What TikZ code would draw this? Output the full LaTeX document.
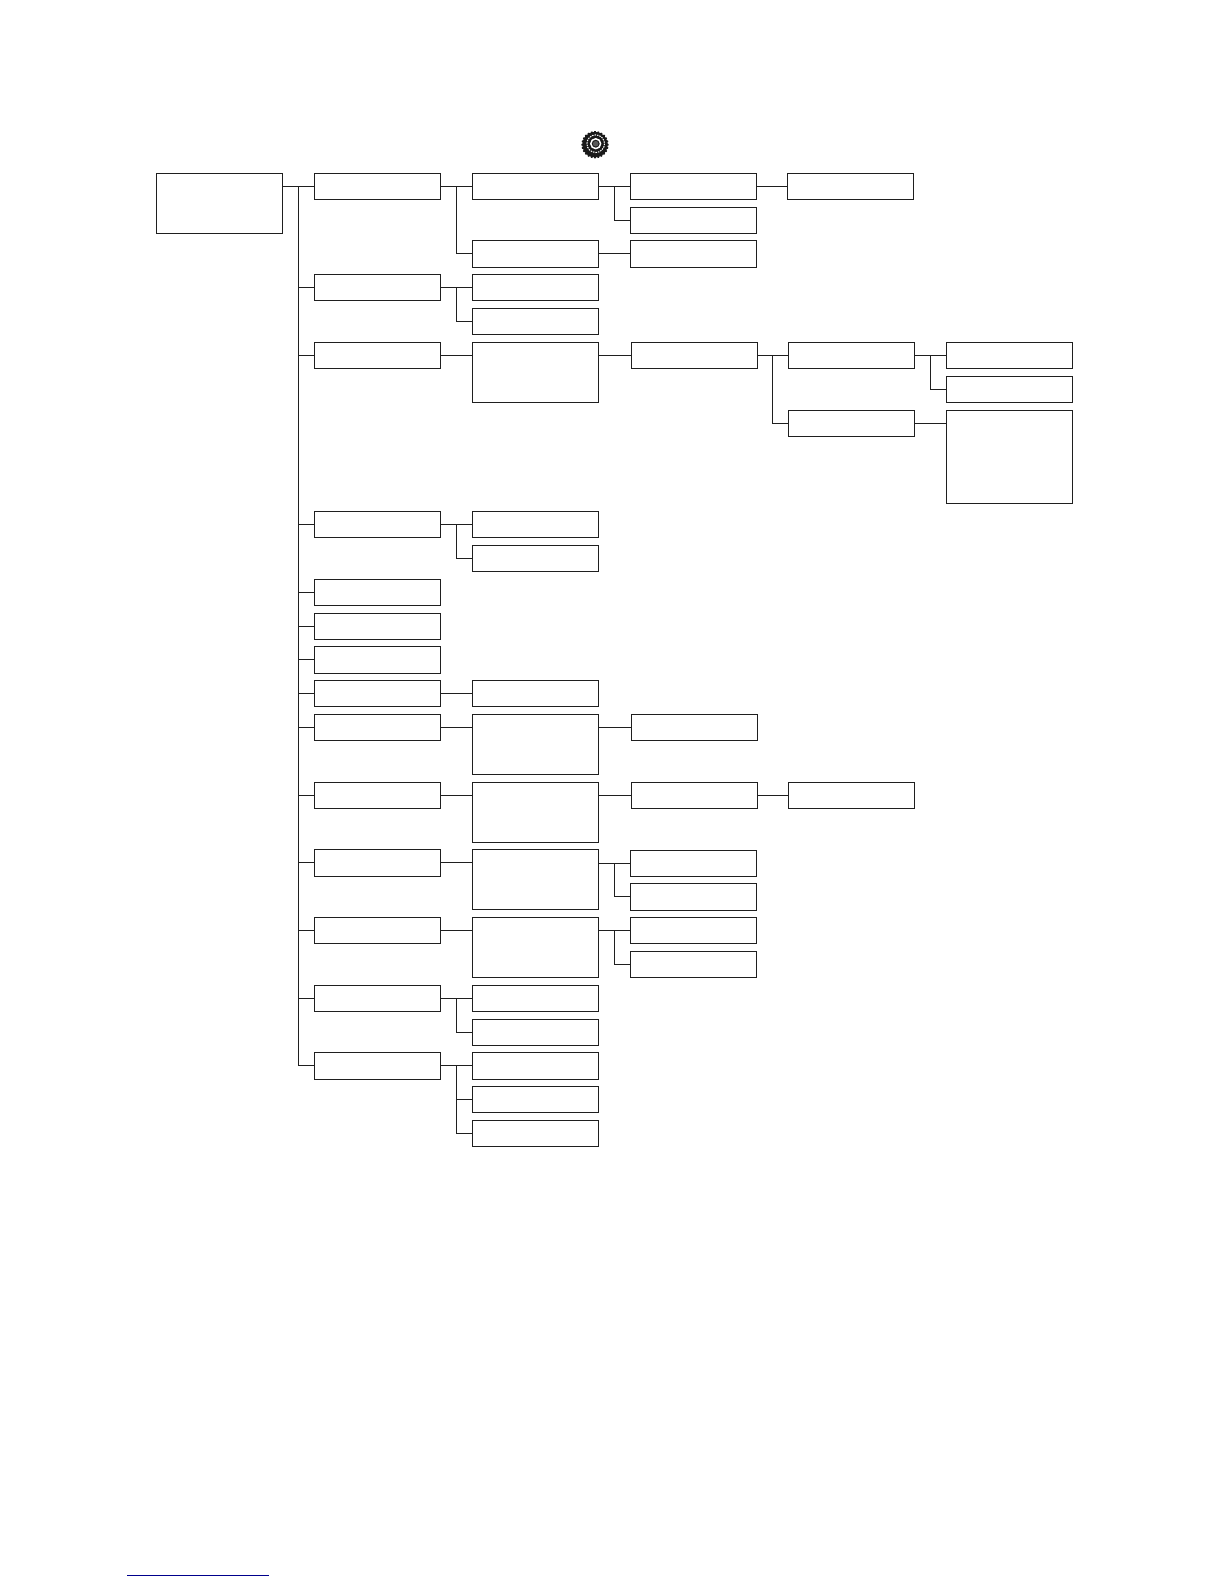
\documentclass[tikz,border=0pt]{standalone}
\newcommand{\bx}[5]{\node[boxn,minimum width=#4bp,minimum height=#5bp,anchor=north west] (#1) at (#2,#3) {};}
\tikzset{boxn/.style={draw=black!88,line width=1.05bp,inner sep=0pt,outer sep=0pt,fill=white},
 link/.style={draw=black!88,line width=1.05bp},
 up/.style={yshift=.5bp}}
\begin{document}
\begin{tikzpicture}[x=1bp,y=-1bp]
\useasboundingbox (0,0) rectangle (1224,1584);
\bx{root}{156.5}{173.5}{126}{60}
\bx{b1}{314.5}{173.5}{126}{26}
\bx{c1}{472.5}{173.5}{126}{26}
\bx{d1}{630.5}{173.5}{126}{26}
\bx{e1}{787.5}{173.5}{126}{26}
\bx{d2}{630.5}{207.5}{126}{26}
\bx{c2}{472.5}{240.5}{126}{27}
\bx{d3}{630.5}{240.5}{126}{27}
\bx{b2}{314.5}{274.5}{126}{26}
\bx{c3}{472.5}{274.5}{126}{26}
\bx{c4}{472.5}{308.5}{126}{26}
\bx{b3}{314.5}{342.5}{126}{26}
\bx{c5}{472.5}{342.5}{126}{60}
\bx{d4}{631.5}{342.5}{126}{26}
\bx{e2}{788.5}{342.5}{126}{26}
\bx{f1}{946.5}{342.5}{126}{26}
\bx{f2}{946.5}{376.5}{126}{26}
\bx{e3}{788.5}{410.5}{126}{26}
\bx{f3}{946.5}{410.5}{126}{93}
\bx{b4}{314.5}{511.5}{126}{26}
\bx{c6}{472.5}{511.5}{126}{26}
\bx{c7}{472.5}{545.5}{126}{26}
\bx{b5}{314.5}{579.5}{126}{26}
\bx{b6}{314.5}{613.5}{126}{26}
\bx{b7}{314.5}{646.5}{126}{27}
\bx{b8}{314.5}{680.5}{126}{26}
\bx{c8}{472.5}{680.5}{126}{26}
\bx{b9}{314.5}{714.5}{126}{26}
\bx{c9}{472.5}{714.5}{126}{60}
\bx{d5}{631.5}{714.5}{126}{26}
\bx{b10}{314.5}{782.5}{126}{26}
\bx{c10}{472.5}{782.5}{126}{60}
\bx{d6}{631.5}{782.5}{126}{26}
\bx{e4}{788.5}{782.5}{126}{26}
\bx{b11}{314.5}{849.5}{126}{27}
\bx{c11}{472.5}{849.5}{126}{60}
\bx{d7}{630.5}{850.5}{126}{26}
\bx{d8}{630.5}{883.5}{126}{27}
\bx{b12}{314.5}{917.5}{126}{26}
\bx{c12}{472.5}{917.5}{126}{60}
\bx{d9}{630.5}{917.5}{126}{26}
\bx{d10}{630.5}{951.5}{126}{26}
\bx{b13}{314.5}{985.5}{126}{26}
\bx{c13}{472.5}{985.5}{126}{26}
\bx{c14}{472.5}{1019.5}{126}{26}
\bx{b14}{314.5}{1052.5}{126}{27}
\bx{c15}{472.5}{1052.5}{126}{27}
\bx{c16}{472.5}{1086.5}{126}{26}
\bx{c17}{472.5}{1120.5}{126}{26}
% junctions
\coordinate (tr) at (298.5,186.5);
\coordinate (j1) at (456.5,186.5);
\coordinate (j2) at (614.5,186.5);
\coordinate (j3) at (456.5,287.5);
\coordinate (j4) at (772.5,355.5);
\coordinate (j5) at (930.5,355.5);
\coordinate (j6) at (456.5,524.5);
\coordinate (j7) at (614.5,863.5);
\coordinate (j8) at (614.5,930.5);
\coordinate (j9) at (456.5,998.5);
\coordinate (j10) at (456.5,1065.5);
\path[link] (root.east |- b1.west) -- (b1.west);
\foreach \n in {b2,b3,b4,b5,b6,b8,b9,b10,b12,b13} {\path[link] (tr) |- (\n.west);}
\foreach \n in {b7,b11,b14} {\path[link] (tr) |- ([up]\n.west);}
\path[link] (b1.east) -- (c1.west);
\path[link] (j1) |- ([up]c2.west);
\path[link] (c1.east) -- (d1.west);
\path[link] (j2) |- (d2.west);
\path[link] (d1.east) -- (e1.west);
\path[link] ([up]c2.east) -- ([up]d3.west);
\path[link] (b2.east) -- (c3.west);
\path[link] (j3) |- (c4.west);
\path[link] (b3.east) -- (b3.east -| c5.west);
\path[link] (c5.east |- d4.west) -- (d4.west);
\path[link] (d4.east) -- (e2.west);
\path[link] (j4) |- (e3.west);
\path[link] (e2.east) -- (f1.west);
\path[link] (j5) |- (f2.west);
\path[link] (e3.east) -- (e3.east -| f3.west);
\path[link] (b4.east) -- (c6.west);
\path[link] (j6) |- (c7.west);
\path[link] (b8.east) -- (c8.west);
\path[link] (b9.east) -- (b9.east -| c9.west);
\path[link] (c9.east |- d5.west) -- (d5.west);
\path[link] (b10.east) -- (b10.east -| c10.west);
\path[link] (c10.east |- d6.west) -- (d6.west);
\path[link] (d6.east) -- (e4.west);
\path[link] ([up]b11.east) -- ([up]b11.east -| c11.west);
\path[link] (c11.east |- d7.west) -- (d7.west);
\path[link] (j7) |- ([up]d8.west);
\path[link] (b12.east) -- (b12.east -| c12.west);
\path[link] (c12.east |- d9.west) -- (d9.west);
\path[link] (j8) |- (d10.west);
\path[link] (b13.east) -- (c13.west);
\path[link] (j9) |- (c14.west);
\path[link] ([up]b14.east) -- ([up]c15.west);
\path[link] (j10) |- (c16.west);
\path[link] (j10) |- (c17.west);
% gear icon
\begin{scope}[shift={(595,144.7)}]
\fill[black!90] (0:13.6)
 \foreach \a in {0,15,...,345} { -- (\a+3:13.6) -- (\a+5:12.6) -- (\a+10:12.6) -- (\a+12:13.6) -- (\a+15:13.6)} -- cycle;
\draw[white,line width=1bp,dash pattern=on 1.5bp off 1bp] (0.7,-1) circle (8.8);
\draw[white,line width=1.5bp] (0.7,-1) circle (4.9);
\fill[black!65] (0.7,-1) circle (2.8);
\end{scope}
% footnote rule
\coordinate (fa) at (127,1575);
\coordinate (fb) at (268.7,1575);
\draw[line width=1bp,draw=blue!55!black] (fa) -- (fb);
\end{tikzpicture}
\end{document}
